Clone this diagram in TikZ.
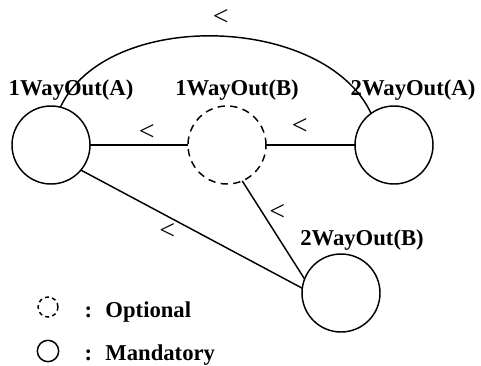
\documentclass[tikz,border=0pt]{standalone}
\usepackage{fontspec}
\setmainfont{Liberation Serif}
\begin{document}
\begin{tikzpicture}[x=0.75pt,y=0.75pt,
        way/.style = {circle,draw,line width=1.1pt,minimum size=58.5pt,inner sep=0pt,outer sep=0pt},
        optway/.style = {way,dash pattern=on 5.5pt off 4pt},
        waylabel/.style = {font=\fontsize{17}{20}\selectfont\bfseries,anchor=base},
        dirmark/.style = {font=\fontsize{21}{24}\selectfont,inner sep=0pt},
        link/.style = {line width=1.1pt}]
                \useasboundingbox (0,0) rectangle (481,365);

                \node[way] (oa) at (51,220) {};
                \node[optway] (ob) at (227,220) {};
                \node[way] (ta) at (394,220) {};
                \node[way] (tb) at (341,72) {};

                \node[waylabel] (oalabel) at (71,270) {1WayOut(A)};
                \node[waylabel] (oblabel) at (237,270) {1WayOut(B)};
                \node[waylabel] (talabel) at (413,270) {2WayOut(A)};
                \node[waylabel] (tblabel) at (362,120) {2WayOut(B)};

                \draw[link] (oa.76) to[out=65,in=115,looseness=0.9]
                    node[dirmark,pos=0.5,shift={(5,18)}] (arclt) {<} (ta.126);
                \draw[link] (oa.0) -- 
                    node[dirmark,pos=0.58,shift={(0,13)}] (ablt) {<} (ob.180);
                \draw[link] (ob.0) -- 
                    node[dirmark,pos=0.38,shift={(0,19)}] (balt) {<} (ta.180);
                \draw[link] (ob.293) -- 
                    node[dirmark,pos=0.32,shift={(15,0)}] (bblt) {<} (tb.159);
                \draw[link] (oa.320) -- 
                    node[dirmark,pos=0.39,shift={(0,-15)}] (aclt) {<} (tb.173);

                % legend
                \node[circle,draw,line width=1.1pt,minimum size=15pt,inner sep=0pt,
                    dash pattern=on 3pt off 2.5pt] (legopt) at (48,58) {};
                \node[circle,draw,line width=1.1pt,minimum size=16pt,inner sep=0pt] 
                    (legman) at (48,14) {};
                \node[waylabel,anchor=base west] (optext) at (80,48) {:~ Optional};
                \node[waylabel,anchor=base west] (mantext) at (80,5) {:~ Mandatory};
            \end{tikzpicture}
\end{document}
